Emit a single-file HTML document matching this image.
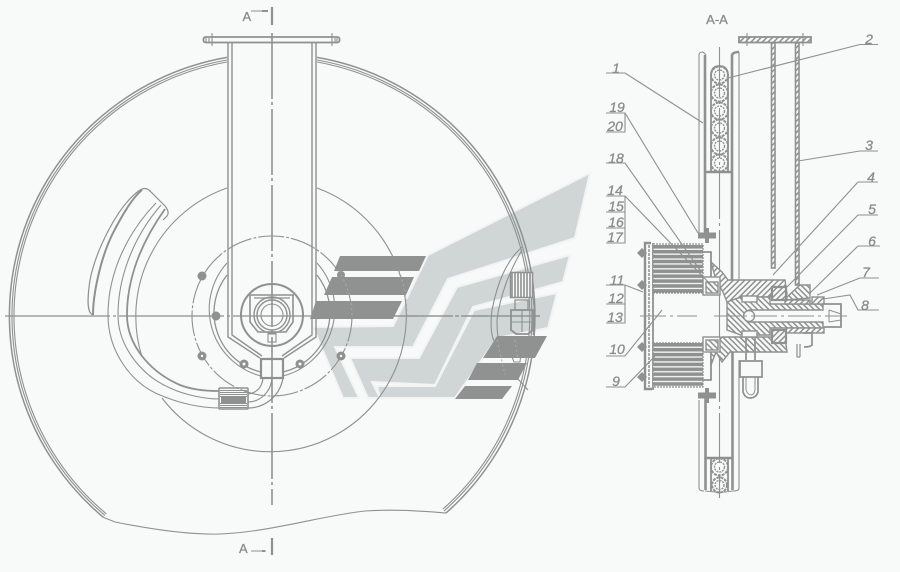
<!DOCTYPE html>
<html><head><meta charset="utf-8"><style>
html,body{margin:0;padding:0;background:#f8f9f9}
svg{display:block}
text{font-family:"Liberation Sans",sans-serif;fill:#8a8d8c;stroke:#8a8d8c;stroke-width:.3}
.n{font-style:italic;font-size:14px;text-anchor:middle}
</style></head><body>
<svg width="900" height="572" viewBox="0 0 900 572" xmlns="http://www.w3.org/2000/svg">
<defs>
<pattern id="h" width="4" height="4" patternUnits="userSpaceOnUse" patternTransform="rotate(45)"><rect width="4" height="4" fill="#f8f9f9"/><rect width="1.500" height="4" fill="#8e9190"/></pattern>
<pattern id="k" width="4" height="4" patternUnits="userSpaceOnUse" patternTransform="rotate(-45)"><rect width="4" height="4" fill="#f8f9f9"/><rect width="1.500" height="4" fill="#8e9190"/></pattern>
<pattern id="s" width="5" height="4.9" patternUnits="userSpaceOnUse"><rect width="5" height="4.9" fill="#f8f9f9"/><rect width="5" height="3.6" fill="#8e9190"/></pattern>
</defs>
<rect width="900" height="572" fill="#f8f9f9"/>

<!-- watermark -->
<g fill="#cfd6d5" stroke="#f2f4f4" stroke-width="2">
<polygon points="590,173 575,238 448,279 413,347 335,347 359,398 343,398 313,327 393,326 428,255"/>
<polygon points="350,358 419,358 457,287 570,255 563,282 473,307 435,385 372,382 380,398 368,398"/>
<polygon points="557,293 548,328 497,338 455,398 380,398 377,386 435,386 474,310"/>
</g>

<g fill="none" stroke="#8e9190" stroke-width="1.100">
<!-- outer disc -->
<path d="M227,57.4 A262.5,262.5 0 0 0 103.5,517.4" stroke-width="1.500"/>
<path d="M227,60 A260,260 0 0 0 105,515.4"/>
<path d="M227,62 A258,258 0 0 0 106.4,513.9"/>
<path d="M317,57.4 A262.5,262.5 0 0 1 446,513" stroke-width="1.500"/>
<path d="M317,60 A260,260 0 0 1 444,511"/>
<path d="M317,62 A258,258 0 0 1 443,509"/>
<path d="M103.5,517.4 L115,522 C150,529 190,535 220,534 C270,532 320,516 365,511 C395,509 420,511 446,513"/>

<!-- big inner circle -->
<path d="M142,357 A136,136 0 0 1 227,188"/>
<path d="M317,188 A136,136 0 1 1 162,398"/>

<!-- hose -->
<path d="M93,315 C87,313 87,300 90,280 C96,250 118,205 140,190 Q145,187 149,190 L165,206 Q170,212 167,216 L163,220" stroke-width="1.200"/>
<path d="M93,315 C93,295 100,260 112,235 C122,215 132,198 142,190" stroke-width="2"/>
<path d="M156,203 C128,232 108,272 108,315 C108,350 130,385 165,397 C180,403 200,408 219,408"/>
<path d="M161,205 C135,235 118,275 118,315 C118,345 140,375 170,388 C185,395 205,399 219,399"/>
<path d="M165,209 C143,240 127,275 127,315 C127,345 150,372 180,385 C190,389 205,391 219,391" stroke-width="1.800"/>
<path d="M248,394 C256,393 262,388 263,378 M248,402 C260,402 271,392 272,378 M248,408 C265,408 280,396 283,378" stroke-width="1.200"/>

<!-- connector -->
<rect x="219" y="388" width="29" height="21" rx="1" fill="#f8f9f9" stroke-width="1.600"/>
<path d="M220,390.500 H247 M220,392.500 H247 M220,394.500 H247 M220,396.500 H247 M220,403.500 H247 M220,405.500 H247 M220,407.500 H247"/>
<rect x="221" y="397" width="25" height="6" fill="#8e9190" stroke="none"/>

<!-- concentric around hub -->
<circle cx="272" cy="316" r="80" stroke-dasharray="26 2 3 2"/>
<path d="M227,263 A69,69 0 0 0 261,376 M317,263 A69,69 0 0 1 283,376"/>
<path d="M227,275 A61,61 0 0 0 261,372 M317,275 A61,61 0 0 1 283,372" stroke-width="1.300"/>

<!-- stem -->
<path d="M228,42 V337 L260,358 M232,42 V335 L262,356 M316,42 V337 L284,358 M312,42 V335 L282,356" stroke-width="1.400"/>

<!-- flange -->
<rect x="203.500" y="37" width="136" height="5.500" rx="2" fill="#f8f9f9" stroke-width="1.800"/>
<path d="M212,33 V46 M332,33 V46"/>
<path d="M206,38 v4 M209,38 v4 M335,38 v4 M337,38 v4"/>

<!-- hub -->
<circle cx="272" cy="315" r="31" stroke-width="2"/>
<path d="M250,295 H294 M250,295 V322 L258,332 H286 L293,322 V295" stroke-width="1.600"/>
<path d="M254,298 H290" stroke-width="1.200"/>
<circle cx="272" cy="315" r="18" stroke-width="1.400"/>
<circle cx="272" cy="315" r="15" stroke-width="1.400"/>
<circle cx="272" cy="315" r="11" stroke-width="1.100"/>
<rect x="268" y="334" width="8" height="8"/>
<rect x="261" y="359" width="22" height="19" fill="#f8f9f9" stroke-width="2.200"/>

<!-- centre lines -->
<path d="M272,33 V505" stroke-width="1.600" stroke-dasharray="66 3 3 4"/>
<path d="M5,316 H540" stroke-width="1.300" stroke-dasharray="105 3 3 3"/>
</g>

<!-- bolts -->
<g fill="#8e9190" stroke="none">
<circle cx="202" cy="276" r="4.500"/><circle cx="216" cy="316" r="4.500"/><circle cx="202" cy="356" r="4.500"/>
<circle cx="244" cy="364" r="4.500"/><circle cx="300" cy="364" r="4.500"/><circle cx="341" cy="356" r="4.500"/><circle cx="341" cy="275" r="4"/>
</g>
<g fill="#f8f9f9"><circle cx="244" cy="364" r="1.500"/><circle cx="300" cy="364" r="1.500"/><circle cx="202" cy="356" r="1.200"/><circle cx="341" cy="356" r="1.200"/></g>

<!-- right fitting on disc -->
<g fill="none" stroke="#8e9190" stroke-width="1.100">
<path d="M522,247 C505,262 497,285 492,310 C490,325 491,340 497,345"/>
<path d="M522,250 C510,270 500,295 497,320 C497,330 498,340 500,345"/>
<path d="M517,378 L528,390"/>
<path d="M533,298 C535,310 535,322 533,335"/>
<path d="M515,300 H528 V310 H515 Z" stroke-width="1.300"/>
<path d="M511,310 H533 V330 L528,334 H516 L511,330 Z" stroke-width="1.800"/>
<path d="M522,310 V332 M511,322 H533"/>
<path d="M510,352 L514,362 H520 L521,352"/>
<rect x="510.500" y="272.500" width="22" height="25" fill="#f8f9f9" stroke-width="1.500"/>
<path d="M512,273 V297 M515,273 V297 M518,273 V297 M521,273 V297 M524,273 V297 M527,273 V297 M530,273 V297" stroke-width="1.600"/>
</g>

<!-- dark bars -->
<g fill="#8f9291">
<polygon points="340,256 426,256 419,271 334,271"/>
<polygon points="332,277 414,277 406,295 324,295"/>
<polygon points="316,301 402,301 393,319 310,319"/>
<polygon points="497,336 547,336 535,358 483,358"/>
<polygon points="477,363 527,363 518,380 468,380"/>
<polygon points="465,386 512,386 502,399 455,399"/>
</g>
<g fill="none" stroke="#a9acab" stroke-width="1" stroke-dasharray="2 3">
<path d="M399,270 A136,136 0 0 1 407,316"/>
<path d="M341,275 A80,80 0 0 1 352,316"/>
<path d="M497,340 L505,375 M515,340 L518,360"/>
</g>
<g fill="none" stroke="#8e9190"><path d="M392,316 H540" stroke-width="1.300" stroke-dasharray="26 3 3 3"/></g>

<!-- section marks -->
<g stroke="#8e9190" fill="none">
<path d="M251,11 H266" stroke-width="1"/><path d="M262,11 H268" stroke-width="2"/><path d="M272,7 V25" stroke-width="2.200"/>
<path d="M251,551 H266" stroke-width="1"/><path d="M262,551 H265" stroke-width="2"/><path d="M272,538 V555" stroke-width="2.200"/>
</g>
<text x="242.500" y="21" font-size="13">A</text>
<text x="239" y="553" font-size="13">A</text>

<!-- SECTION VIEW -->
<g fill="none" stroke="#8e9190" stroke-width="1.100">
<!-- walls -->
<path d="M699,237 V55 Q699,52 703,52 L706,55"/>
<path d="M705,235 V55" stroke-width="2.600"/>
<path d="M732,280 V55 Q733,52 739,52" stroke-width="2.600"/>
<path d="M739,52 V280"/>
<path d="M699,400 V488 Q699,491 704,491"/>
<path d="M705.500,395 V490" stroke-width="2.600"/>
<path d="M732.500,352 V490" stroke-width="2.600"/>
<path d="M739,360 V488 Q739,491 733,491"/>
<path d="M705,491 L715,492 H725 L733,491"/>
<path d="M705,172 H732" stroke-width="2.600"/>
<path d="M705,458 H732" stroke-width="2.600"/>
<path d="M711,172 V76 Q711,66 719.500,66 Q728,66 728,76 V172" stroke-width="1.800"/>
<path d="M711,458 V491 M728,458 V491" stroke-width="1.800"/>
<!-- hose circles -->
<g stroke-width="2" stroke-dasharray="3 1">
<circle cx="719.500" cy="75" r="8.500"/><circle cx="719.500" cy="93" r="8.500"/><circle cx="719.500" cy="111" r="8.500"/><circle cx="719.500" cy="128" r="8.500"/><circle cx="719.500" cy="146" r="8.500"/><circle cx="719.500" cy="163" r="8.500"/>
<circle cx="719.500" cy="467" r="8.500"/><circle cx="719.500" cy="485" r="7.500"/>
</g>
<g stroke-width="1.400" stroke-dasharray="2 1">
<circle cx="719.500" cy="75" r="5"/><circle cx="719.500" cy="93" r="5"/><circle cx="719.500" cy="111" r="5"/><circle cx="719.500" cy="128" r="5"/><circle cx="719.500" cy="146" r="5"/><circle cx="719.500" cy="163" r="5"/>
<circle cx="719.500" cy="467" r="5"/><circle cx="719.500" cy="485" r="4.500"/>
</g>
<path d="M719.500,47 V498" stroke-dasharray="50 4 3 4"/>
<!-- stem walls -->
<rect x="771.500" y="43" width="3.500" height="225" fill="url(#h)" stroke-width="1.600"/>
<rect x="795.500" y="43" width="3.500" height="242" fill="url(#h)" stroke-width="1.600"/>
<rect x="739" y="37" width="72" height="5.500" fill="url(#h)" stroke-width="1.800"/>
<path d="M747,33 V46 M803,33 V46"/>
<!-- bolts -->
<path d="M698,235.500 H716 M698,395.500 H716" stroke-width="6"/>
<path d="M707,228 V243 M707,388 V403" stroke-width="4"/>
<!-- left plate -->
<path d="M651,243 H645 V389 H652" stroke-width="2.400"/>
<path d="M649,245 V387" stroke-width="1.500" stroke-dasharray="3 1"/>
<path d="M653,243 V390" stroke-width="1.800"/>
<rect x="653" y="244" width="50" height="49" fill="url(#s)" stroke-width="1.200" stroke-dasharray="2 1"/>
<rect x="653" y="343" width="50" height="44" fill="url(#s)" stroke-width="1.200" stroke-dasharray="2 1"/>
<path d="M703,252 H711 V277 M703,380 H711 V352" stroke-width="1.800"/>
</g>
<g fill="#8e9190">
<polygon points="637,253 642,248 647,253 642,258"/><polygon points="637,285 642,280 647,285 642,290"/><polygon points="637,347 642,342 647,347 642,352"/><polygon points="637,377 642,372 647,377 642,382"/>
</g>
<g stroke="#8e9190" stroke-width="1.400">
<!-- hub bodies -->
<polygon points="711,262 722,272 728,280 785,280 787,294 772,294 770,297 741,297 727,302 723,292 716,280" fill="url(#h)"/>
<polygon points="722,337 785,337 787,352 740,352 730,352 722,362 716,352 711,365 711,352" fill="url(#k)"/>
<polygon points="727,302 741,297 770,297 770,304 823,304 823,310 749,310 744,316 749,322 823,322 823,328 770,328 770,335 741,335 727,330" fill="url(#k)"/>
<polygon points="787,297 800,285 810,285 810,298 787,300" fill="url(#k)"/>
<rect x="785" y="300" width="25" height="4" fill="url(#h)"/>
<rect x="812" y="297" width="12" height="7" fill="url(#h)"/>
<rect x="786" y="328" width="38" height="5" fill="url(#h)"/>
<rect x="703" y="277" width="17" height="18" fill="#f8f9f9"/>
<rect x="703" y="337" width="17" height="15" fill="#f8f9f9"/>
<rect x="772" y="287" width="14" height="13" fill="url(#h)" stroke-width="2.200"/>
<rect x="772" y="330" width="14" height="13" fill="url(#h)" stroke-width="2.200"/>
<rect x="706" y="282" width="12" height="11" fill="url(#k)"/>
<rect x="706" y="340" width="12" height="10" fill="url(#k)"/>
<rect x="742" y="296" width="15" height="6" fill="#f8f9f9"/>
<rect x="742" y="331" width="15" height="6" fill="#f8f9f9"/>
</g>
<g fill="none" stroke="#8e9190">
<path d="M823,304 H841 V327 H823" stroke-width="1.800"/>
<path d="M829,310 L841,314 M829,322 L841,320 M829,310 V322"/>
<circle cx="749" cy="316" r="5.500" fill="#f8f9f9" stroke-width="1.400"/>
<path d="M640,316 H697 M714,316 H847" stroke-dasharray="26 4 3 4" stroke-width="1.100"/>
<!-- grease fitting -->
<path d="M746,337 V360 M755,337 V360 M740,361 H762 V377 H740 Z" stroke-width="1.700"/>
<path d="M743,377 V392 Q745,398 750,398 Q756,398 758,392 V377" stroke-width="1.700"/>
<path d="M746,377 V390 Q748,395 751,395 Q754,395 755,390 V377"/>
<path d="M797,344 V357 M800,344 V357 M797,357 H800" stroke-width="1.200"/>
<path d="M803,333 H812 V345 Q810,347 804,347" stroke-width="1.700"/>
</g>

<!-- leaders -->
<g fill="none" stroke="#8e9190" stroke-width="1.100">
<path d="M860,44.500 H878 M860,44.500 L728,78"/>
<path d="M606,73 H625 L703,123"/>
<path d="M606,113 H625 V132 H606 M625,113 L698,233"/>
<path d="M606,163 H625 L700,270"/>
<path d="M606,196 H625 V243 H606 M606,212 H625 M606,228 H625 M625,196 L713,287"/>
<path d="M860,151 H878 M860,151 L798,161"/>
<path d="M858,182 H878 M858,182 L773,275"/>
<path d="M858,215 H878 M858,215 L787,287"/>
<path d="M858,246 H880 M858,246 L810,293"/>
<path d="M860,278 H879 M860,278 L817,295"/>
<path d="M879,310 H858 L850,295 L823,299"/>
<path d="M606,285 H625 L643,292"/>
<path d="M606,304 H625 M606,323 H625 V285"/>
<path d="M606,356 H625 L662,310"/>
<path d="M606,387 H625 L658,353"/>
</g>

<!-- labels -->
<text x="717" y="24" font-size="13" text-anchor="middle">A-A</text>
<text class="n" x="869" y="44">2</text>
<text class="n" x="616" y="73">1</text>
<text class="n" x="617" y="112">19</text>
<text class="n" x="615" y="131">20</text>
<text class="n" x="616" y="163">18</text>
<text class="n" x="615" y="195">14</text>
<text class="n" x="616" y="211">15</text>
<text class="n" x="616" y="227">16</text>
<text class="n" x="615" y="242">17</text>
<text class="n" x="869" y="150">3</text>
<text class="n" x="871" y="182">4</text>
<text class="n" x="872" y="214">5</text>
<text class="n" x="872" y="246">6</text>
<text class="n" x="866" y="277">7</text>
<text class="n" x="865" y="310">8</text>
<text class="n" x="617" y="285">11</text>
<text class="n" x="616" y="303">12</text>
<text class="n" x="615" y="322">13</text>
<text class="n" x="617" y="354">10</text>
<text class="n" x="616" y="386">9</text>
</svg>
</body></html>
